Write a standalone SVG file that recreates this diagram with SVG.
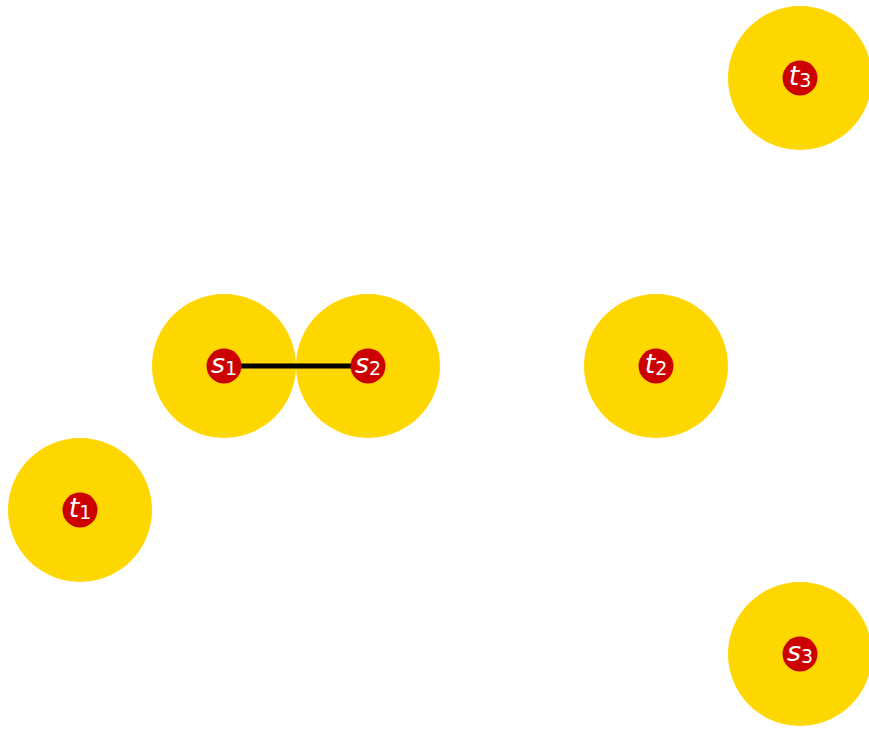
<svg xmlns="http://www.w3.org/2000/svg" width="869" height="729" viewBox="0 0 869 729">
<style>
.halo{fill:#FFD700}
.pt{fill:#CC0000}
.lbl{fill:#fff;font-family:"DejaVu Sans",sans-serif;font-style:italic;font-size:27px;text-anchor:middle}
.sub{font-style:normal;font-size:19px}
.edge{stroke:#000;stroke-width:5;fill:none}
</style>
<rect width="869" height="729" fill="#fff"/>
<g id="halos">
<circle class="halo" cx="224" cy="366" r="72"/>
<circle class="halo" cx="368" cy="366" r="72"/>
<circle class="halo" cx="656" cy="366" r="72"/>
<circle class="halo" cx="80" cy="510" r="72"/>
<circle class="halo" cx="800" cy="78" r="72"/>
<circle class="halo" cx="800" cy="654" r="72"/>
</g>
<g id="connectors">
<line class="edge" x1="224" y1="366" x2="368" y2="366"/>
</g>
<g id="s1"><circle class="pt" cx="224" cy="366" r="17.5"/><text class="lbl" x="224" y="373">s<tspan class="sub" dy="2">1</tspan></text></g>
<g id="s2"><circle class="pt" cx="368" cy="366" r="17.5"/><text class="lbl" x="368" y="373">s<tspan class="sub" dy="2">2</tspan></text></g>
<g id="t2"><circle class="pt" cx="656" cy="366" r="17.5"/><text class="lbl" x="656" y="373">t<tspan class="sub" dy="2">2</tspan></text></g>
<g id="t1"><circle class="pt" cx="80" cy="510" r="17.5"/><text class="lbl" x="80" y="517">t<tspan class="sub" dy="2">1</tspan></text></g>
<g id="t3"><circle class="pt" cx="800" cy="78" r="17.5"/><text class="lbl" x="800" y="85">t<tspan class="sub" dy="2">3</tspan></text></g>
<g id="s3"><circle class="pt" cx="800" cy="654" r="17.5"/><text class="lbl" x="800" y="661">s<tspan class="sub" dy="2">3</tspan></text></g>
</svg>
